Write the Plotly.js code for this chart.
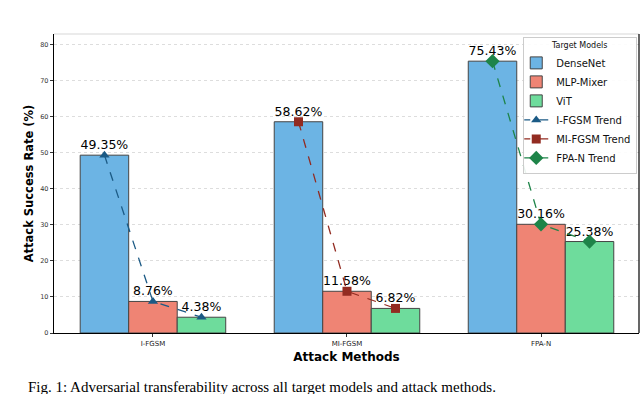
<!DOCTYPE html>
<html>
<head>
<meta charset="utf-8">
<script src="https://cdn.plot.ly/plotly-3.0.1.min.js"></script>
<style>html,body{margin:0;padding:0;background:#fff;}#chart{width:640px;height:394px;}</style>
</head>
<body>
<div id="chart"></div>
<script>
const methods = ["I-FGSM", "MI-FGSM", "FPA-N"];
const models = ["DenseNet", "MLP-Mixer", "ViT"];
const densenet = [49.35, 58.62, 75.43];
const mlpMixer = [8.76, 11.58, 30.16];
const vit = [4.38, 6.82, 25.38];
const trendNames = ["I-FGSM Trend", "MI-FGSM Trend", "FPA-N Trend"];
const yTicks = [0, 10, 20, 30, 40, 50, 60, 70, 80];

const barColors = ["#6cb4e4", "#ef8474", "#6edc9c"];
const trendColors = ["#1b5a85", "#922b21", "#1e8449"];
const trendSymbols = ["triangle-up", "square", "diamond"];
const trendSizes = [9, 9, 11];

const series = [densenet, mlpMixer, vit];
const xIdx = methods.map((m, i) => i);
const barW = 0.25;

const traces = [];
series.forEach((vals, k) => {
  traces.push({
    type: "bar",
    name: models[k],
    x: xIdx,
    y: vals,
    offset: (k - 1.5) * barW,
    width: barW,
    marker: {color: barColors[k], line: {color: "#444", width: 1}},
    text: vals.map(v => v.toFixed(2) + "%"),
    textposition: "outside",
    textfont: {family: "DejaVu Sans", size: 12.5, color: "#000"},
    cliponaxis: false,
    hoverinfo: "skip"
  });
});

methods.forEach((m, i) => {
  traces.push({
    type: "scatter",
    mode: "lines+markers",
    name: trendNames[i],
    x: [-1, 0, 1].map(o => i + o * barW),
    y: series.map(s => s[i]),
    line: {color: trendColors[i], dash: "dash", width: 1.3},
    marker: {color: trendColors[i], symbol: trendSymbols[i], size: trendSizes[i]},
    hoverinfo: "skip"
  });
});

const layout = {
  width: 640, height: 394,
  margin: {l: 54, r: 1, t: 34, b: 61},
  paper_bgcolor: "#fff",
  plot_bgcolor: "#fff",
  showlegend: true,
  barmode: "overlay",
  font: {family: "DejaVu Sans", color: "#000"},
  xaxis: {
    range: [-0.51, 2.505],
    tickvals: xIdx,
    ticktext: methods,
    tickfont: {size: 7, color: "#222"},
    ticks: "outside", ticklen: 3, tickcolor: "#333",
    showline: true, linecolor: "#000", linewidth: 1.2,
    showgrid: false, zeroline: false,
    title: {text: "<b>Attack Methods</b>", font: {size: 12, family: "DejaVu Sans"}, standoff: 6}
  },
  yaxis: {
    range: [0, 82.97],
    tickvals: yTicks,
    tickfont: {size: 6.5, color: "#333"},
    ticks: "outside", ticklen: 3, tickcolor: "#333",
    showline: true, linecolor: "#000", linewidth: 1.2,
    showgrid: true, gridcolor: "#dddddd", griddash: "dot", gridwidth: 1,
    zeroline: false,
    title: {text: "<b>Attack Success Rate (%)</b>", font: {size: 11.5, family: "DejaVu Sans"}, standoff: 4}
  },
  legend: {
    x: 0.997, xanchor: "right", y: 0.99, yanchor: "top",
    bgcolor: "rgba(255,255,255,0.9)", bordercolor: "#cccccc", borderwidth: 1,
    font: {size: 10, family: "DejaVu Sans", color: "#111"},
    title: {text: "Target Models", font: {size: 8, family: "DejaVu Sans"}, side: "top center"},
    tracegroupgap: 0,
    itemwidth: 30,
    indentation: -8
  },
  shapes: [
    {type: "line", xref: "paper", yref: "paper", x0: 0, x1: 1, y0: 1, y1: 1, line: {color: "#e4e4e4", width: 1.5}},
    {type: "line", xref: "paper", yref: "paper", x0: 1, x1: 1, y0: 0, y1: 1, line: {color: "#000", width: 1.2}}
  ],
  annotations: [
    {xref: "paper", yref: "paper", x: -0.048, y: -0.148, xanchor: "left", yanchor: "top",
     text: "Fig. 1: Adversarial transferability across all target models and attack methods.", showarrow: false,
     font: {family: "Liberation Serif", size: 15, color: "#000"}}
  ]
};

Plotly.newPlot("chart", traces, layout, {displayModeBar: false, staticPlot: true});
</script>
</body>
</html>
